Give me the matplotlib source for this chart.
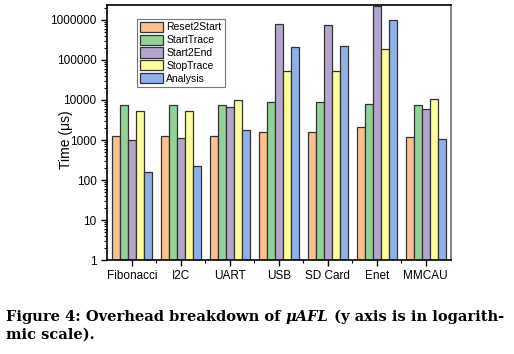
import numpy as np
import matplotlib.pyplot as plt
from matplotlib.ticker import LogLocator, FixedLocator, NullFormatter

# Data (microseconds)
apps = ["Fibonacci", "I2C", "UART", "USB", "SD Card", "Enet", "MMCAU"]
reset2start = [1230, 1230, 1230, 1590, 1600, 2150, 1200]
starttrace = [7400, 7400, 7400, 8700, 8700, 7750, 7300]
start2end = [980, 1150, 6500, 790000, 740000, 2200000, 5800]
stoptrace = [5200, 5200, 10000, 54000, 52000, 186000, 10700]
analysis = [163, 230, 1800, 208000, 220000, 1000000, 1070]

series = [
    ("Reset2Start", reset2start, "#fbc08f"),
    ("StartTrace", starttrace, "#93d196"),
    ("Start2End", start2end, "#b4a5cc"),
    ("StopTrace", stoptrace, "#fdfd99"),
    ("Analysis", analysis, "#8fb0e8"),
]

plt.rcParams['font.family'] = ['Liberation Sans', 'DejaVu Sans']

fig = plt.figure(figsize=(5.14, 3.54), dpi=100)
ax = fig.add_axes([0.208, 0.265, 0.669, 0.722])

x = np.arange(len(apps))
w = 0.163
for i, (name, vals, col) in enumerate(series):
    ax.bar(x + (i - 2) * w, vals, w, color=col, edgecolor="#333333",
           linewidth=0.9, label=name, zorder=2)

ax.set_yscale('log')
ax.set_ylim(1, 2.4e6)
ax.set_xlim(-0.51, len(apps) - 0.49)
ax.set_yticks([1, 10, 100, 1000, 10000, 100000, 1000000])
ax.set_yticklabels(["1", "10", "100", "1000", "10000", "100000", "1000000"])
ax.yaxis.set_minor_locator(LogLocator(base=10, subs=np.arange(2, 10)))
ax.yaxis.set_minor_formatter(NullFormatter())
ax.set_xticks(x)
ax.set_xticklabels(apps)
ax.xaxis.set_minor_locator(FixedLocator(x[:-1] + 0.5))

ax.tick_params(axis='both', which='major', direction='out', length=4,
               width=1, labelsize=8.5, colors='black')
ax.tick_params(axis='both', which='minor', direction='out', length=2, width=0.8)
ax.tick_params(axis='x', pad=3)
ax.set_ylabel("Time (μs)", fontsize=10)
ax.yaxis.set_label_coords(-0.1, 0.47)

for s in ['left', 'bottom', 'top']:
    ax.spines[s].set_linewidth(1.2)
ax.spines['right'].set_color('#888888')
ax.spines['right'].set_linewidth(1.5)

leg = ax.legend(loc='upper left', bbox_to_anchor=(0.088, 0.945), fontsize=7.5,
                frameon=True, fancybox=False, edgecolor='#555555',
                handlelength=2.2, handleheight=1.15, handletextpad=0.3,
                labelspacing=0.2, borderpad=0.3, borderaxespad=0)
leg.get_frame().set_linewidth(0.8)

serif = ['DejaVu Serif']
t1 = fig.text(0.012, 0.093, "Figure 4: Overhead breakdown of ", fontsize=10.5,
              fontweight='bold', family=serif, va='baseline')
t2 = fig.text(0, 0, "μAFL", fontsize=10.5, fontweight='bold', fontstyle='italic',
              family=serif, va='baseline')
t3 = fig.text(0, 0, " (y axis is in logarith-", fontsize=10.5, fontweight='bold',
              family=serif, va='baseline')
fig.text(0.012, 0.042, "mic scale).", fontsize=10.5, fontweight='bold',
         family=serif, va='baseline')

# chain the caption pieces so the italic part sits inline
fig.canvas.draw()
r = fig.canvas.get_renderer()
inv = fig.transFigure.inverted()
bb = t1.get_window_extent(r)
t2.set_position((inv.transform((bb.x1, 0))[0], 0.093))
fig.canvas.draw()
bb = t2.get_window_extent(r)
t3.set_position((inv.transform((bb.x1, 0))[0], 0.093))

fig.savefig("out.png", dpi=100)
